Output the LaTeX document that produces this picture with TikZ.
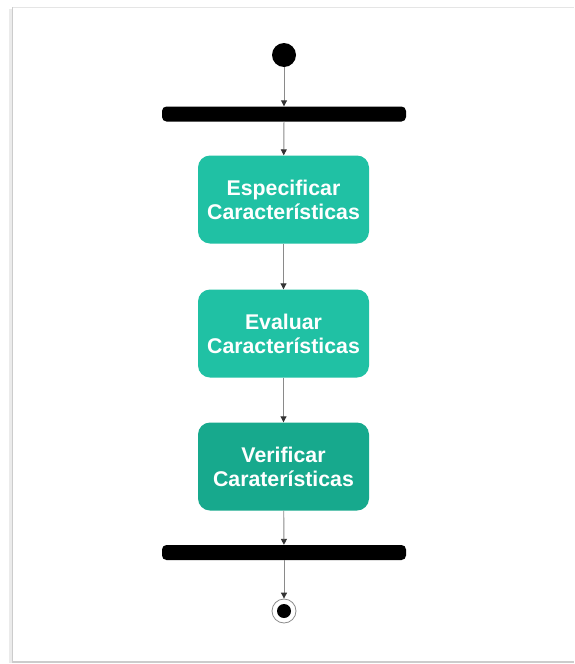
\documentclass[tikz,border=0pt]{standalone}
\usepackage{fontspec}
\setmainfont{Liberation Sans}
\usetikzlibrary{arrows.meta}
\definecolor{tealA}{HTML}{20C1A4}
\definecolor{tealB}{HTML}{17A98D}
\definecolor{linegray}{HTML}{8A8A8A}
\tikzset{
  act/.style={rounded corners=12pt, minimum width=171pt, minimum height=88pt, inner sep=0pt,
    text=white, font=\bfseries\fontsize{21.3}{24}\selectfont, align=center},
  bar/.style={fill=black, rounded corners=4.5pt, minimum width=244pt, minimum height=15pt, inner sep=0pt},
  flow/.style={draw=linegray, line width=0.9pt, -{Triangle[length=6pt,width=6pt,fill=black!80,color=black!80]}},
}
\begin{document}
\begin{tikzpicture}[x=1pt,y=-1pt]
\useasboundingbox (0,0) rectangle (574,664);
\fill[white] (0,0) rectangle (574,664);
% frame
\draw[black!8, line width=3pt] (10,9) -- (10,663);
\draw[black!20, line width=1.2pt] (12.5,7) -- (12.5,662) -- (574,662);
\draw[black!10, line width=1pt] (12.5,7) -- (574,7);
% nodes
\node[circle, fill=black, minimum size=24pt, inner sep=0pt] (start) at (284,55) {};
\node[bar] (fork) at (284,114) {};
\node[act, fill=tealA] (a1) at (283.5,199.5) {Especificar\\Características};
\node[act, fill=tealA] (a2) at (283.5,333.5) {Evaluar\\Características};
\node[act, fill=tealB] (a3) at (283.5,466.5) {Verificar\\Caraterísticas};
\node[bar] (join) at (284,552.5) {};
\node[circle, draw=black!45, line width=0.8pt, minimum size=24pt, inner sep=0pt] (end) at (284,611) {};
\node[circle, fill=black, minimum size=14pt, inner sep=0pt] (endin) at (end.center) {};
% connectors
\draw[flow] (start) -- (fork);
\draw[flow] (fork) -- (a1);
\draw[flow] (a1) -- (a2);
\draw[flow] (a2) -- (a3);
\draw[flow] (a3) -- (join);
\draw[flow] (join) -- (end);
\end{tikzpicture}
\end{document}
